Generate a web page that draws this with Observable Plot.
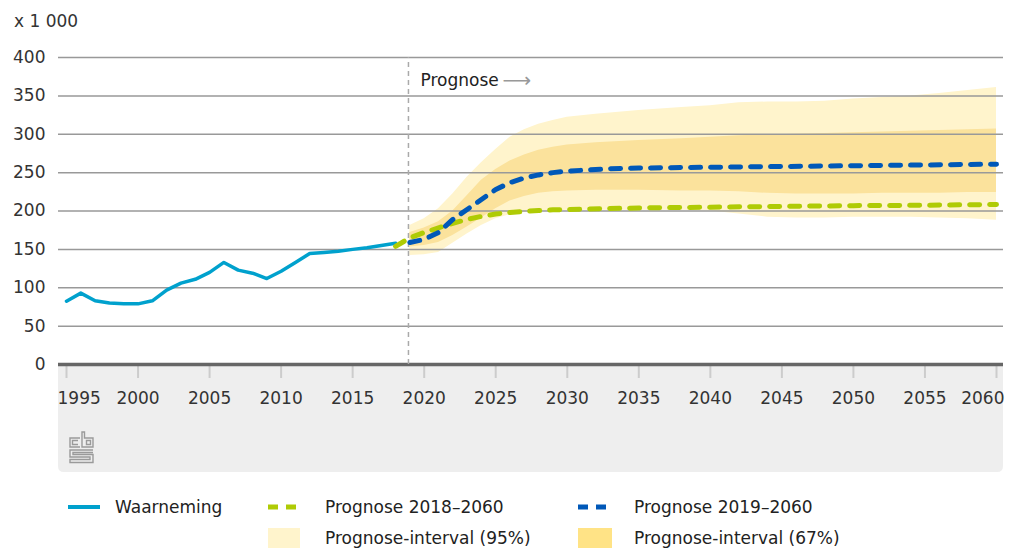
<!DOCTYPE html>
<html><head><meta charset="utf-8">
<script src="https://cdn.jsdelivr.net/npm/d3@7"></script>
<script src="https://cdn.jsdelivr.net/npm/@observablehq/plot@0.6"></script>
<style>
body{margin:0;background:#fff;font-family:"DejaVu Sans",sans-serif;}
#wrap{position:relative;width:1012px;height:550px;overflow:hidden}
#chart{position:absolute;left:0;top:0}
.lg{position:absolute;font-size:17px;color:#222;line-height:20px;white-space:nowrap;font-family:"DejaVu Sans",sans-serif}
.sw{position:absolute}
</style></head><body><div id="wrap"><div id="chart"></div></div>
<script>
// ---- data ----
const obsYears = [1995,1996,1997,1998,1999,2000,2001,2002,2003,2004,2005,2006,2007,2008,2009,2010,2011,2012,2013,2014,2015,2016,2017,2018];
const obsValues = [82.5,93,83,80,79,79,83,97,106,111,120,133,123,119,112,121.5,133,144.6,146,147.6,150,152,155,158];

const prog18Years = [2018,2019,2020,2021,2022,2023,2024,2025,2026,2027,2028,2029,2030,2035,2040,2045,2050,2055,2060];
const prog18Values = [154,165,172,178,184,189,193,196,198,199.5,200.5,201.5,202,204,205,206,207,207.5,208.5];

const prog19Years = [2019,2020,2021,2022,2023,2024,2025,2026,2027,2028,2029,2030,2033,2035,2040,2045,2050,2055,2060];
const prog19Values = [159,163,172,189,202,215,228,237,243,247,250,252,255,256,257,258,259,260,261];

const bandYears = [2019,2020,2021,2022,2023,2024,2025,2026,2027,2028,2029,2030,2032,2035,2038,2040,2042,2044,2046,2048,2050,2052,2054,2056,2058,2060];
const upper95 = [181,190,203,222,244,263,280,296,306,313,318,322,326,331,335,337,341,342,342,343,346,348,350,353,357,361];
const upper67 = [172,178,186,200,220,240,254,265,273,279,283,286,289,292,294,296,298,299,300,301,302,303,304,305,306,307];
const lower67 = [153,155,159,168,179,191,203,213,219,223,225,226,227,227,226,226,225,223,222,222,222,223,223,223,224,224];
const lower95 = [142,143,146,158,170,181,190,195,198,200,200,201,201,201,201,200,196,192,191,191,192,192,192,191,190,188];

const yTicks = [0,50,100,150,200,250,300,350,400];
const xTicks = [1995,2000,2005,2010,2015,2020,2025,2030,2035,2040,2045,2050,2055,2060];
const prognoseStart = 2018.9;
const prognoseLabel = "Prognose";
const yUnit = "x 1 000";
const legendLabels = ["Waarneming","Prognose 2018–2060","Prognose 2019–2060","Prognose-interval (95%)","Prognose-interval (67%)"];

// ---- tables ----
const obs = obsYears.map((year,i)=>({year, value:obsValues[i]}));
const p18 = prog18Years.map((year,i)=>({year, value:prog18Values[i]}));
const p19 = prog19Years.map((year,i)=>({year, value:prog19Values[i]}));
const band = bandYears.map((year,i)=>({year, u95:upper95[i], u67:upper67[i], l67:lower67[i], l95:lower95[i]}));

const W = 1012, H = 480, mL = 58, mR = 9, mT = 57, zeroY = 364;
const C = {obs:"#00a1cd", p18:"#afcb05", p19:"#0058b8", b95:"#fff4cc", b67:"#fbe29c", b67lg:"#ffe386"};
const midTicks = xTicks.slice(1, -1);
const firstTick = [xTicks[0]], lastTick = [xTicks[xTicks.length - 1]];
const labelPad = 27;

const plot = Plot.plot({
  width: W, height: H,
  marginLeft: mL, marginRight: mR, marginTop: mT, marginBottom: H - zeroY,
  style: {fontFamily: "DejaVu Sans", fontSize: "17px", color: "#333", background: "transparent", overflow: "visible"},
  x: {domain: [1995, 2060], insetLeft: 8, insetRight: 7},
  y: {domain: [0, 400]},
  marks: [
    Plot.areaY(band, {x: "year", y1: "l95", y2: "u95", fill: C.b95}),
    Plot.areaY(band, {x: "year", y1: "l67", y2: "u67", fill: C.b67}),
    Plot.gridY(yTicks, {stroke: "#999", strokeOpacity: 1, strokeWidth: 1.5}),
    Plot.axisY(yTicks, {tickSize: 0, tickPadding: 13, fill: "#333", fontSize: 17, label: null}),
    Plot.axisX(xTicks, {tickSize: 14, stroke: "#ccc", strokeWidth: 2, text: null, label: null}),
    Plot.axisX(midTicks, {tickSize: 0, tickPadding: labelPad, fill: "#333", fontSize: 17, tickFormat: d => String(d), label: null}),
    Plot.axisX(firstTick, {tickSize: 0, tickPadding: labelPad, fill: "#333", fontSize: 17, tickFormat: d => String(d), textAnchor: "start", dx: -9, label: null}),
    Plot.axisX(lastTick, {tickSize: 0, tickPadding: labelPad, fill: "#333", fontSize: 17, tickFormat: d => String(d), textAnchor: "end", dx: 8, label: null}),
    Plot.ruleY([0], {stroke: "#666", strokeWidth: 3.5}),
    Plot.ruleX([prognoseStart], {y1: 0, y2: 400, stroke: "#aaa", strokeWidth: 1.5, strokeDasharray: "5,4"}),
    Plot.text([prognoseLabel], {x: prognoseStart, y: 370, text: d => d, textAnchor: "start", dx: 12, fill: "#222", fontSize: 17}),
    Plot.text(["⟶"], {x: prognoseStart, y: 370, text: d => d, textAnchor: "start", dx: 94, fill: "#999", fontSize: 20}),
    Plot.line(obs, {x: "year", y: "value", stroke: C.obs, strokeWidth: 3.5}),
    Plot.line(p18, {x: "year", y: "value", stroke: C.p18, strokeWidth: 5, strokeDasharray: "10,10"}),
    Plot.line(p19, {x: "year", y: "value", stroke: C.p19, strokeWidth: 5, strokeDasharray: "10,10"})
  ]
});
document.getElementById("chart").appendChild(plot);

// background panel under the x axis + unit label + logo
const svg = d3.select(plot);
const xr = [mL, W - mR];
svg.insert("path", ":first-child")
  .attr("d", `M${xr[0]},${zeroY} H${xr[1]} V${H-14} Q${xr[1]},${H-8} ${xr[1]-6},${H-8} H${xr[0]+6} Q${xr[0]},${H-8} ${xr[0]},${H-14} Z`)
  .attr("fill", "#eeeeee");
svg.append("text").attr("x", 14).attr("y", 27).attr("fill", "#333").attr("text-anchor", "start")
  .attr("font-size", 17).attr("font-family", "DejaVu Sans").text(yUnit);
const logo = svg.append("g").attr("fill", "none").attr("stroke", "#9a9a9a").attr("stroke-width", 1.4);
logo.append("path").attr("d", "M80,438 H70 V447 H80 M78,440.5 H72.5 V444.5 H78");
logo.append("path").attr("d", "M82,432 V447 H93 V438 H84.5 V432 Z M86.5,440.5 H90.5 V444.5 H86.5 Z");
logo.append("path").attr("d", "M93,450 H70 V457 H90 V459.5 H70 V462.5 H93 V454.5 H73 V452.5 H93");

// legend
const wrap = document.getElementById("wrap");
function lgText(txt, left, cy){
  const d = document.createElement("div"); d.className = "lg"; d.textContent = txt;
  d.style.left = left + "px"; d.style.top = (cy - 10) + "px"; wrap.appendChild(d);
}
function lgSvg(left, cy, inner){
  const d = document.createElement("div"); d.className = "sw";
  d.style.left = left + "px"; d.style.top = (cy - 11) + "px";
  d.innerHTML = `<svg width="36" height="22">${inner}</svg>`; wrap.appendChild(d);
}
lgSvg(68, 507, `<line x1="0" x2="32" y1="11" y2="11" stroke="${C.obs}" stroke-width="4"/>`);
lgText(legendLabels[0], 115, 507);
lgSvg(268, 507, `<line x1="0" x2="33" y1="11" y2="11" stroke="${C.p18}" stroke-width="5" stroke-dasharray="10,8"/>`);
lgText(legendLabels[1], 325, 507);
lgSvg(578, 507, `<line x1="0" x2="34" y1="11" y2="11" stroke="${C.p19}" stroke-width="5" stroke-dasharray="10,8"/>`);
lgText(legendLabels[2], 634, 507);
lgSvg(268, 538, `<rect x="0" y="1" width="32" height="20" fill="${C.b95}"/>`);
lgText(legendLabels[3], 325, 538);
lgSvg(578, 538, `<rect x="0" y="1" width="34" height="20" fill="${C.b67lg}"/>`);
lgText(legendLabels[4], 634, 538);
</script>
</body></html>
